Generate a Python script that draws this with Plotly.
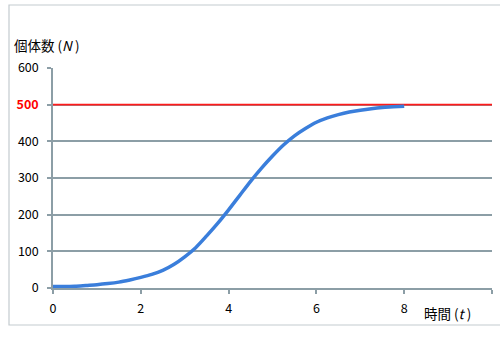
import plotly.graph_objects as go

t_vals = [0, 0.25, 0.5, 0.75, 1, 1.25, 1.5, 1.75, 2, 2.25, 2.5, 2.75, 3, 3.25,
          3.5, 3.75, 4, 4.25, 4.5, 4.75, 5, 5.25, 5.5, 5.75, 6, 6.25, 6.5,
          6.75, 7, 7.25, 7.5, 7.75, 8]
n_vals = [4, 4, 5, 7, 9, 12, 16, 22, 29, 37, 48, 64, 85, 110,
          142, 176, 213, 252, 291, 327, 360, 390, 415, 435, 452, 464, 473,
          480, 485, 489, 492, 494, 496]
cap_t = [0, 10]
cap_n = [500, 500]
x_ticks = [0, 2, 4, 6, 8, 10]
x_ticktext = ["0", "2", "4", "6", "8", ""]
y_ticks = [0, 100, 200, 300, 400, 500, 600]
y_ticktext = ["0", "100", "200", "300", "400",
              "<span style='color:#ff0000'><b>500</b></span>", "600"]

FONT = "Noto Sans CJK JP"
GRID = "#8c9ea6"

fig = go.Figure()
fig.add_trace(go.Scatter(x=cap_t, y=cap_n, mode="lines",
                         line=dict(color="#ff1a1a", width=1.8),
                         hoverinfo="skip", showlegend=False))
fig.add_trace(go.Scatter(x=t_vals, y=n_vals, mode="lines",
                         line=dict(color="#3a7edb", width=3.5, shape="spline", smoothing=0.8),
                         showlegend=False))

fig.update_layout(
    width=500, height=354,
    margin=dict(l=53, r=8, t=68, b=66),
    paper_bgcolor="white", plot_bgcolor="white",
    font=dict(family=FONT, size=12.5, color="#000000"),
    xaxis=dict(range=[0, 10], tickvals=x_ticks, ticktext=x_ticktext,
               showgrid=False, zeroline=False,
               showline=True, linecolor=GRID, linewidth=1.5,
               ticks="outside", ticklen=4, tickcolor=GRID, tickwidth=1.5,
               ticklabelstandoff=4,
               tickfont=dict(family=FONT, size=12.5, color="#000000")),
    yaxis=dict(range=[0, 600], tickvals=y_ticks, ticktext=y_ticktext,
               showgrid=True, gridcolor=GRID, gridwidth=1.5,
               zeroline=False,
               showline=True, linecolor=GRID, linewidth=1.5,
               ticks="outside", ticklen=4, tickcolor=GRID, tickwidth=1.5,
               ticklabelstandoff=6,
               tickfont=dict(family=FONT, size=12.5, color="#000000")),
    shapes=[
        dict(type="rect", xref="paper", yref="paper",
             x0=(9 - 53) / 439, x1=(510 - 53) / 439,
             y0=(288 - 325) / 220, y1=(288 - 5) / 220,
             line=dict(color="#c4cbcf", width=1.2), fillcolor="rgba(0,0,0,0)",
             layer="below"),
    ],
    annotations=[
        dict(text="個体数 (<i>N</i> )", xref="paper", yref="paper",
             x=(12 - 53) / 439, y=(288 - 45) / 220, xanchor="left", yanchor="middle",
             showarrow=False, font=dict(family=FONT, size=13.5, color="#000000")),
        dict(text="時間 (<i>t</i> )", xref="paper", yref="paper",
             x=(422 - 53) / 439, y=(288 - 313) / 220, xanchor="left", yanchor="middle",
             showarrow=False, font=dict(family=FONT, size=13.5, color="#000000")),
    ],
)

fig.write_html("out.html")
